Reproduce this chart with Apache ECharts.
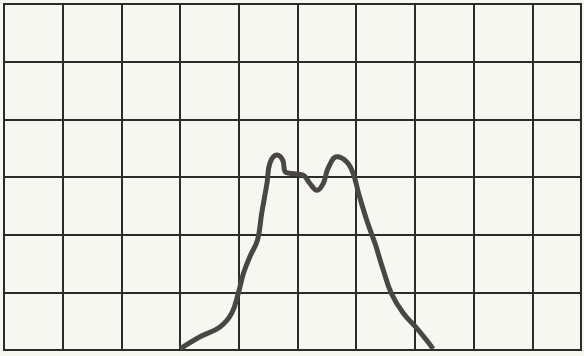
<!doctype html>
<html lang="en">
  <head>
    <meta charset="UTF-8" />
    <title>Trace</title>
    <script src="https://cdn.jsdelivr.net/npm/echarts/dist/echarts.min.js"></script>
  </head>
  <body>
    <div class="main" style="width: 584px; height: 356px"></div>
  </body>
  <script>
    // trace in grid divisions (x: 0..9.83, picture is cropped on the right; y: 0..6)
    const traceX = [3.0, 3.34, 3.68, 3.88, 3.99, 4.08, 4.19, 4.32, 4.39, 4.48, 4.53, 4.65, 4.75, 4.79, 4.9, 5.1, 5.21, 5.33, 5.44, 5.52, 5.67, 5.84, 5.95, 6.04, 6.18, 6.32, 6.46, 6.6, 6.8, 7.03, 7.2, 7.31];
    const traceY = [0.02, 0.23, 0.4, 0.64, 0.98, 1.33, 1.62, 1.91, 2.37, 2.89, 3.24, 3.38, 3.29, 3.09, 3.06, 3.03, 2.89, 2.77, 2.89, 3.15, 3.35, 3.26, 3.06, 2.72, 2.25, 1.85, 1.39, 0.98, 0.64, 0.38, 0.17, 0.02];

    const myChart = echarts.init(document.querySelector(".main"));

    const ink = "#2d2a2a";
    const gridLine = { show: true, lineStyle: { color: ink, width: 2 } };

    const option = {
      backgroundColor: "#f7f7f2",
      animation: false,
      grid: { left: 4, right: 3, top: 4, bottom: 6, show: true, borderColor: ink, borderWidth: 2 },
      xAxis: {
        type: "value",
        min: 0,
        max: 9.83,
        interval: 1,
        axisLabel: { show: false },
        axisTick: { show: false },
        axisLine: { show: true, lineStyle: { color: ink, width: 2 } },
        splitLine: gridLine,
      },
      yAxis: {
        type: "value",
        min: 0,
        max: 6,
        interval: 1,
        axisLabel: { show: false },
        axisTick: { show: false },
        axisLine: { show: true, lineStyle: { color: ink, width: 2 } },
        splitLine: gridLine,
      },
      series: [
        {
          type: "line",
          smooth: 0.4,
          showSymbol: false,
          lineStyle: { color: "#4a4646", width: 5 },
          data: traceX.map((x, i) => [x, traceY[i]]),
        },
      ],
    };

    myChart.setOption(option);
  </script>
  <style>
    body {
      padding: 0;
      margin: 0;
    }
  </style>
</html>
